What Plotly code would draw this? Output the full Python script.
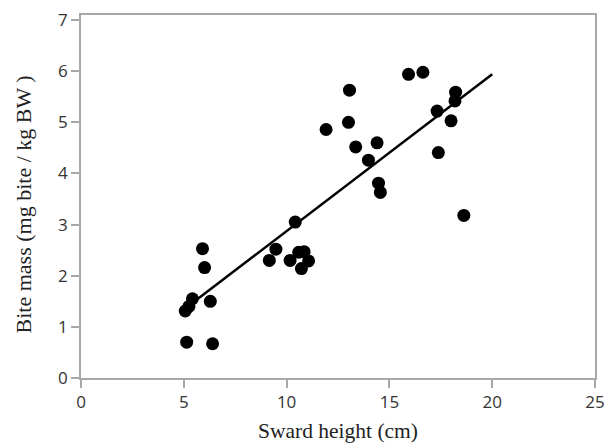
import plotly.graph_objects as go

sward_height = [5.07, 5.25, 5.42, 5.14, 6.40, 6.29, 5.91, 6.01, 9.16, 9.48,
                10.17, 10.42, 10.59, 10.85, 10.72, 11.07, 11.92, 13.01, 13.06, 13.36,
                13.98, 14.40, 14.47, 14.56, 15.93, 16.63, 17.32, 17.38, 18.00, 18.22,
                18.19, 18.62]
bite_mass = [1.31, 1.40, 1.55, 0.70, 0.67, 1.50, 2.53, 2.16, 2.30, 2.52,
             2.30, 3.05, 2.46, 2.47, 2.14, 2.29, 4.86, 5.00, 5.63, 4.52,
             4.26, 4.60, 3.81, 3.63, 5.94, 5.98, 5.22, 4.41, 5.03, 5.59,
             5.42, 3.18]
fit_x = [5.0, 20.0]
fit_y = [1.34, 5.94]

x_ticks = [0, 5, 10, 15, 20, 25]
y_ticks = [0, 1, 2, 3, 4, 5, 6, 7]
x_title = "Sward height (cm)"
y_title = "Bite mass (mg bite / kg BW )"

fig = go.Figure()
fig.add_trace(go.Scatter(x=fit_x, y=fit_y, mode="lines",
                         line=dict(color="black", width=2.5), showlegend=False))
fig.add_trace(go.Scatter(x=sward_height, y=bite_mass, mode="markers",
                         marker=dict(color="black", size=13), showlegend=False))

axis_common = dict(showgrid=False, zeroline=False, showline=True, linecolor="#a8a8a8",
                   linewidth=1.7, mirror=True, ticks="outside", ticklen=8,
                   tickcolor="#a8a8a8", tickwidth=1.7, automargin=False,
                   ticklabeloverflow="allow",
                   tickfont=dict(family="Open Sans", size=17, color="#333333"))

fig.update_layout(
    width=604, height=444,
    margin=dict(l=81, r=9, t=15, b=66),
    plot_bgcolor="white", paper_bgcolor="white",
    xaxis=dict(range=[0, 25], tickvals=x_ticks,
               title=dict(text=x_title, standoff=11,
                          font=dict(family="Liberation Serif", size=21.5, color="#222222")),
               **axis_common),
    yaxis=dict(range=[0, 7.1], tickvals=y_ticks, **axis_common),
    annotations=[dict(text=y_title, textangle=-90, showarrow=False,
                      xref="paper", yref="paper", x=-0.111, y=0.478,
                      xanchor="center", yanchor="middle",
                      font=dict(family="Liberation Serif", size=22, color="#222222"))],
)

fig.write_html("out.html", config={"displayModeBar": False},
               post_script="document.body.style.margin='0';document.body.style.overflow='hidden';")
